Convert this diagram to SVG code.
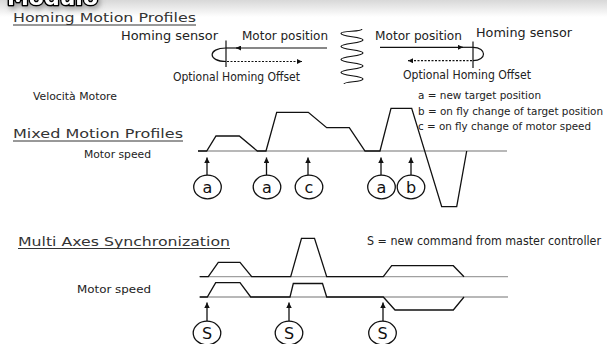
<svg xmlns="http://www.w3.org/2000/svg" width="607" height="344" viewBox="0 0 607 344">
  <style>
    .ttl { font-family: "DejaVu Sans", "Verdana", sans-serif; font-size: 13px; fill: #333; }
    .lbl { font-family: "DejaVu Sans Condensed", "DejaVu Sans", sans-serif; font-size: 12px; fill: #222; }
    .sm { font-family: "DejaVu Sans Condensed", "DejaVu Sans", sans-serif; font-size: 11px; fill: #222; }
    .tag { font-family: "DejaVu Sans", sans-serif; font-size: 16px; fill: #111; text-anchor: middle; }
    .uline { stroke: #333; stroke-width: 1; }
    .axis { fill: none; stroke: #a0a0a0; stroke-width: 1.3; }
    .prof { fill: none; stroke: #111; stroke-width: 1.3; stroke-linejoin: miter; }
    .ln { fill: none; stroke: #111; stroke-width: 1.2; }
    .dot { fill: none; stroke: #111; stroke-width: 1.2; stroke-dasharray: 2 1.5; }
    .up { fill: none; stroke: #111; stroke-width: 1.3; marker-end: url(#tip); }
    .ring { fill: #fff; stroke: #111; stroke-width: 1.3; }
  </style>
  <defs>
    <linearGradient id="band" x1="0" y1="0" x2="0" y2="1">
      <stop offset="0" stop-color="#d8d8d8"/>
      <stop offset="1" stop-color="#ffffff"/>
    </linearGradient>
    <filter id="shade" x="-20%" y="-60%" width="140%" height="220%">
      <feDropShadow dx="2" dy="3" stdDeviation="2.5" flood-color="#777" flood-opacity="0.6"/>
    </filter>
    <marker id="tip" viewBox="0 0 10 10" refX="10" refY="5" markerUnits="userSpaceOnUse" markerWidth="6" markerHeight="5.5" orient="auto">
      <path d="M0,0 L10,5 L0,10 z" fill="#111"/>
    </marker>
    <marker id="head" viewBox="0 0 10 10" refX="10" refY="5" markerUnits="userSpaceOnUse" markerWidth="9" markerHeight="5" orient="auto">
      <path d="M0,0 L10,5 L0,10 z" fill="#111"/>
    </marker>
  </defs>

  <!-- page background and top band -->
  <rect width="607" height="344" fill="#fff"/>
  <rect width="607" height="17" fill="url(#band)"/>

  <!-- header word, clipped by the top edge -->
  <g id="header">
    <text x="7" y="5" font-family="DejaVu Sans" font-weight="bold" font-size="22" fill="#fff" stroke="#000" stroke-width="3" paint-order="stroke" stroke-linejoin="round" filter="url(#shade)" textLength="91" lengthAdjust="spacingAndGlyphs">Modulo</text>
  </g>

  <!-- ===== Homing Motion Profiles ===== -->
  <g id="homing-title">
    <text class="ttl" x="13" y="22" textLength="183" lengthAdjust="spacingAndGlyphs">Homing Motion Profiles</text>
    <line class="uline" x1="13" y1="25" x2="196" y2="25"/>
  </g>

  <g id="homing-left">
    <text class="lbl" x="121" y="40" textLength="97" lengthAdjust="spacingAndGlyphs">Homing sensor</text>
    <text class="lbl" x="242" y="40" textLength="86" lengthAdjust="spacingAndGlyphs">Motor position</text>
    <text class="lbl" x="173" y="81" textLength="127" lengthAdjust="spacingAndGlyphs">Optional Homing Offset</text>
    <line class="ln" x1="226" y1="40.5" x2="226" y2="67"/>
    <path class="ln" d="M226,48 C207.5,48 207.5,61.5 226,61.5"/>
    <path class="ln" d="M327,48 L236,48" marker-end="url(#head)"/>
    <path class="ln" d="M238,48 L226,48"/>
    <path class="dot" d="M227,61.5 L302,61.5" marker-end="url(#head)"/>
  </g>

  <g id="coil">
    <path class="ln" d="M362,29 C362,32.5 341,30 341,33.5 C341,37 363,36.5 363,40 C363,43.5 341,43 341,46.5 C341,50 363,49.5 363,53 C363,56.5 341,56 341,59.5 C341,63 363,62.5 363,66 C363,69.5 341,69 341,72.5 C341,76 363,75.5 363,79 C363,82.5 344,81 344,84"/>
  </g>

  <g id="homing-right">
    <text class="lbl" x="375" y="40" textLength="87" lengthAdjust="spacingAndGlyphs">Motor position</text>
    <text class="lbl" x="476" y="37" textLength="96" lengthAdjust="spacingAndGlyphs">Homing sensor</text>
    <text class="lbl" x="403" y="79" textLength="128" lengthAdjust="spacingAndGlyphs">Optional Homing Offset</text>
    <line class="ln" x1="473" y1="41.5" x2="473" y2="68"/>
    <path class="ln" d="M473,47.3 C487,47.3 487,60.7 473,60.7"/>
    <path class="ln" d="M380,47.3 L463,47.3" marker-end="url(#head)"/>
    <path class="ln" d="M461,47.3 L473,47.3"/>
    <path class="dot" d="M472,60.7 L408,60.7" marker-end="url(#head)"/>
  </g>

  <!-- ===== Mixed Motion Profiles ===== -->
  <g id="mixed-title">
    <text class="sm" x="33" y="100" font-size="10.5" textLength="84" lengthAdjust="spacingAndGlyphs">Velocità Motore</text>
    <text class="ttl" x="13" y="138" textLength="170" lengthAdjust="spacingAndGlyphs">Mixed Motion Profiles</text>
    <line class="uline" x1="13" y1="141" x2="183" y2="141"/>
    <text class="sm" x="84" y="157.5" font-size="10.5" textLength="67" lengthAdjust="spacingAndGlyphs">Motor speed</text>
  </g>

  <g id="mixed-legend">
    <text class="sm" x="418" y="99" textLength="123" lengthAdjust="spacingAndGlyphs">a = new target position</text>
    <text class="sm" x="418" y="114.5" textLength="185" lengthAdjust="spacingAndGlyphs">b = on fly change of target position</text>
    <text class="sm" x="418" y="130" textLength="173" lengthAdjust="spacingAndGlyphs">c = on fly change of motor speed</text>
  </g>

  <g id="mixed-chart">
    <line class="axis" x1="198" y1="151" x2="507" y2="151"/>
    <path class="prof" d="M198,151 L206.7,151 L216,136 L239.3,136 L257.3,151 L266,151 L276.7,112.3 L308.3,112.3 L326.7,127.7 L349.3,127.7 L365,151 L380,151 L391,108.3 L411.7,108.3 L441.7,206.7 L456.7,206.7 L466.7,151"/>
  </g>

  <g id="connectors">
    <path class="up" d="M207,175 L207,157.5"/>
    <path class="up" d="M266.5,175 L266.5,157.5"/>
    <path class="up" d="M308,175 L308,157.5"/>
    <path class="up" d="M381,175 L381,157.5"/>
    <path class="up" d="M411,175 L411,157.5"/>
    <path class="up" d="M207,321 L207,302.5"/>
    <path class="up" d="M289,321 L289,302.5"/>
    <path class="up" d="M383,321 L383,302.5"/>
  </g>

  <g id="mark-a1"><ellipse class="ring" cx="207.5" cy="187" rx="13.8" ry="11.8"/><text class="tag" x="207.5" y="192.5">a</text></g>
  <g id="mark-a2"><ellipse class="ring" cx="267" cy="187" rx="13.8" ry="11.8"/><text class="tag" x="267" y="192.5">a</text></g>
  <g id="mark-c"><ellipse class="ring" cx="309" cy="187" rx="13.8" ry="11.8"/><text class="tag" x="309" y="192.5">c</text></g>
  <g id="mark-a3"><ellipse class="ring" cx="381.5" cy="187" rx="13.8" ry="11.8"/><text class="tag" x="381.5" y="192.5">a</text></g>
  <g id="mark-b"><ellipse class="ring" cx="411" cy="187" rx="13.8" ry="11.8"/><text class="tag" x="411" y="192.5">b</text></g>

  <!-- ===== Multi Axes Synchronization ===== -->
  <g id="sync-title">
    <text class="ttl" x="18" y="245.5" textLength="212" lengthAdjust="spacingAndGlyphs">Multi Axes Synchronization</text>
    <line class="uline" x1="18" y1="248.5" x2="230" y2="248.5"/>
    <text class="sm" x="77" y="292.5" font-size="11.5" textLength="74" lengthAdjust="spacingAndGlyphs">Motor speed</text>
    <text class="lbl" x="367" y="245" font-size="11.5" textLength="234" lengthAdjust="spacingAndGlyphs">S = new command from master controller</text>
  </g>

  <g id="sync-chart">
    <line class="axis" x1="199" y1="276.7" x2="508" y2="276.7"/>
    <line class="axis" x1="199" y1="297" x2="508" y2="297"/>
    <path class="prof" d="M200,276.7 L208.3,276.7 L218.3,262.3 L240,262.3 L251.7,276.7 L290.7,276.7 L301.5,238.3 L314.5,238.3 L326.7,276.7 L383.3,276.7 L391.7,265.7 L453.3,265.7 L464,276.7"/>
    <path class="prof" d="M200,297 L207.3,297 L215.7,282.7 L240,282.7 L250.7,297 L290,297 L293.3,283.5 L322.5,283.5 L326.7,297 L383.3,297 L395,310 L453.3,310 L464,297"/>
  </g>

  <g id="mark-s1"><ellipse class="ring" cx="207" cy="333" rx="13.8" ry="11.8"/><text class="tag" x="207" y="338.5">S</text></g>
  <g id="mark-s2"><ellipse class="ring" cx="289" cy="333" rx="13.8" ry="11.8"/><text class="tag" x="289" y="338.5">S</text></g>
  <g id="mark-s3"><ellipse class="ring" cx="382.5" cy="333" rx="13.8" ry="11.8"/><text class="tag" x="382.5" y="338.5">S</text></g>
</svg>
